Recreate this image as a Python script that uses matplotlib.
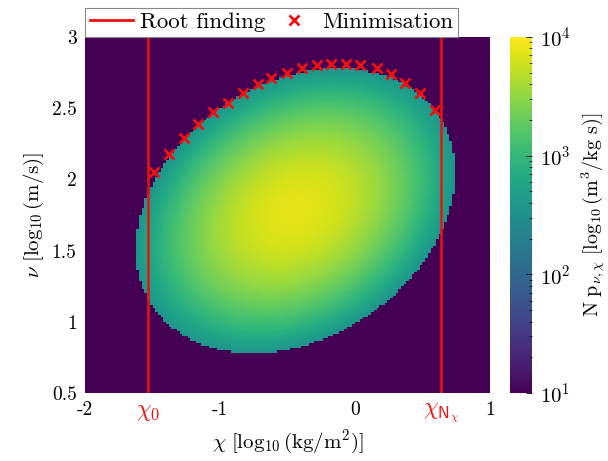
import numpy as np
import matplotlib
matplotlib.use('Agg')
import matplotlib.pyplot as plt
from matplotlib.colors import LogNorm
from matplotlib.lines import Line2D

plt.rcParams['mathtext.fontset'] = 'cm'

# density model (log10 values)
centre = [-0.44, 1.78]
cov = [[1.40, 0.32], [0.32, 1.00]]
peak_log = 3.88
edge_log = 2.55
floor_val = 10.0

# root finding bounds
chi_0 = -1.53
chi_N = 0.64

# minimisation points
min_chi = [-1.49, -1.38, -1.27, -1.16, -1.05, -0.94, -0.83, -0.72, -0.62, -0.50,
           -0.39, -0.28, -0.18, -0.07, 0.04, 0.16, 0.27, 0.37, 0.48, 0.59]
min_nu = [2.05, 2.18, 2.29, 2.39, 2.47, 2.54, 2.61, 2.67, 2.71, 2.75,
          2.78, 2.80, 2.81, 2.81, 2.80, 2.78, 2.74, 2.68, 2.61, 2.49]

xticks = [-2, chi_0, -1, 0, chi_N, 1]
xlabels = ['-2', r'$\chi_{\mathsf{0}}$', '-1', '0', r'$\chi_{\mathsf{N}_{\chi}}$', '1']
yticks = [0.5, 1, 1.5, 2, 2.5, 3]
ylabels = ['0.5', '1', '1.5', '2', '2.5', '3']
cbticks = [10, 100, 1000, 10000]
cblabels = [r'$\mathsf{10^{1}}$', r'$\mathsf{10^{2}}$', r'$\mathsf{10^{3}}$', r'$\mathsf{10^{4}}$']

# grid
chi = np.linspace(-2, 1, 151)
nu = np.linspace(0.5, 3, 151)
cc, nn = np.meshgrid(0.5*(chi[1:]+chi[:-1]), 0.5*(nu[1:]+nu[:-1]))
inv = np.linalg.inv(np.array(cov))
dx = cc - centre[0]; dy = nn - centre[1]
q = inv[0,0]*dx*dx + 2*inv[0,1]*dx*dy + inv[1,1]*dy*dy
z = 10**(peak_log - (peak_log-edge_log)*q)
z[q > 1] = floor_val

fig = plt.figure(figsize=(6.08, 4.61), dpi=100)
ax = fig.add_axes([85/608, 68/461, 405/608, 356/461])
cax = fig.add_axes([510/608, 68/461, 22/608, 356/461])

im = ax.pcolormesh(chi, nu, z, cmap='viridis', norm=LogNorm(10, 1e4), rasterized=True)
ax.axvline(chi_0, color='#ee1111', lw=1.8)
ax.axvline(chi_N, color='#ee1111', lw=1.8)
ax.plot(min_chi, min_nu, 'x', color='#ee1111', ms=7.5, mew=2)

ax.set_xlim(-2, 1)
ax.set_ylim(0.5, 3)
ax.set_xticks(xticks)
ax.set_xticklabels(xlabels, fontfamily='cmr10', fontsize=14)
ax.set_yticks(yticks)
ax.set_yticklabels(ylabels, fontfamily='cmr10', fontsize=14)
for i in (1, 4):
    ax.get_xticklabels()[i].set_color('#ee1111')
    ax.get_xticklabels()[i].set_fontsize(17)
ax.tick_params(length=0, pad=6)
for s in ax.spines.values():
    s.set_visible(False)
ax.set_xlabel(r'$\chi\ [\log_{10}(\mathrm{kg/m^2})]$', fontsize=15, labelpad=2)
ax.set_ylabel(r'$\nu\ [\log_{10}(\mathrm{m/s})]$', fontsize=15, labelpad=4)

handles = [Line2D([], [], color='#ee1111', lw=2),
           Line2D([], [], color='#ee1111', marker='x', ls='none', ms=7, mew=2)]
leg = ax.legend(handles, ['Root finding', 'Minimisation'], ncol=2, loc='lower left',
                bbox_to_anchor=(0, 1), borderaxespad=0, fancybox=False,
                prop={'family': 'cmr10', 'size': 16.5}, handlelength=1.9,
                columnspacing=0.3, handletextpad=0.3, borderpad=0.2)
leg.get_frame().set_edgecolor('#888888')
leg.get_frame().set_linewidth(0.8)
leg.get_frame().set_alpha(1)

cb = fig.colorbar(im, cax=cax)
cb.set_ticks(cbticks)
cb.set_ticklabels(cblabels)
cax.tick_params(labelsize=15, direction='in', length=4, width=0.6, pad=6)
cax.tick_params(which='minor', direction='in', length=2, width=0.5)
cb.outline.set_visible(False)
cb.set_label(r'$\mathrm{N}\ \mathrm{p}_{\nu,\chi}\ [\log_{10}(\mathrm{m}^3/\mathrm{kg\ s})]$',
             fontsize=14.5, labelpad=6)

fig.savefig('out.png', dpi=100)
